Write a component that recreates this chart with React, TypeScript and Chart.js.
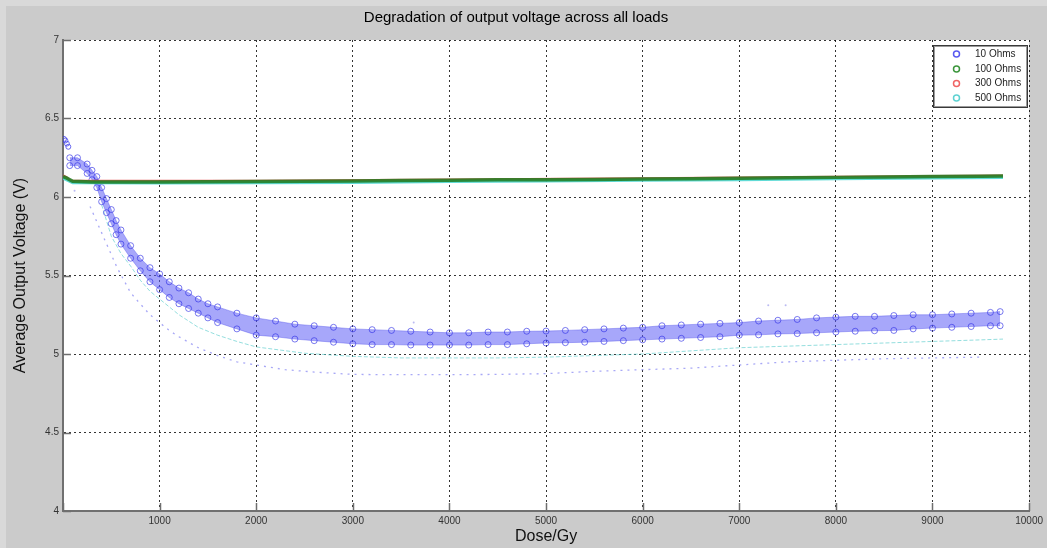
import { useEffect, useRef } from 'react';
import { Chart, registerables } from 'chart.js';

Chart.register(...registerables);

const FONT = "'Liberation Sans', Arial, Helvetica, sans-serif";

const chartTitle = 'Degradation of output voltage across all loads';
const xTitle = 'Dose/Gy';
const yTitle = 'Average Output Voltage (V)';

const xTicks = [0, 1000, 2000, 3000, 4000, 5000, 6000, 7000, 8000, 9000, 10000];
const yTicks = [4, 4.5, 5, 5.5, 6, 6.5, 7];

const seriesLabels = ['10 Ohms', '100 Ohms', '300 Ohms', '500 Ohms'];
const seriesColors = ['#5a5af0', '#3c963c', '#f06464', '#5fd2d2'];

// 10 Ohms: main band (upper / lower edge of the dense marker cloud)
const bandDose = [70, 150, 250, 300, 350, 400, 450, 500, 550, 600, 700, 800, 900, 1000, 1100, 1200, 1300, 1400, 1500, 1600, 1800, 2000, 2200, 2400, 2600, 2800, 3000, 3200, 3400, 3600, 3800, 4000, 4200, 4400, 4600, 4800, 5000, 5200, 5400, 5600, 5800, 6000, 6200, 6400, 6600, 6800, 7000, 7200, 7400, 7600, 7800, 8000, 8200, 8400, 8600, 8800, 9000, 9200, 9400, 9600, 9700];
const band10Upper = [6.25, 6.25, 6.21, 6.17, 6.13, 6.06, 5.99, 5.92, 5.85, 5.79, 5.69, 5.61, 5.55, 5.51, 5.46, 5.42, 5.39, 5.35, 5.32, 5.30, 5.26, 5.23, 5.21, 5.19, 5.18, 5.17, 5.16, 5.155, 5.15, 5.145, 5.14, 5.135, 5.135, 5.14, 5.14, 5.145, 5.146, 5.15, 5.155, 5.16, 5.165, 5.17, 5.18, 5.185, 5.19, 5.195, 5.2, 5.21, 5.215, 5.22, 5.23, 5.235, 5.24, 5.24, 5.245, 5.25, 5.25, 5.255, 5.26, 5.265, 5.27];
const band10Lower = [6.2, 6.2, 6.15, 6.11, 6.06, 5.97, 5.9, 5.83, 5.76, 5.7, 5.61, 5.53, 5.46, 5.41, 5.36, 5.32, 5.29, 5.26, 5.23, 5.2, 5.16, 5.12, 5.11, 5.095, 5.085, 5.075, 5.065, 5.06, 5.06, 5.057, 5.057, 5.057, 5.057, 5.06, 5.06, 5.065, 5.07, 5.072, 5.075, 5.08, 5.085, 5.09, 5.095, 5.1, 5.105, 5.11, 5.12, 5.122, 5.128, 5.13, 5.135, 5.14, 5.145, 5.148, 5.15, 5.16, 5.165, 5.17, 5.175, 5.18, 5.18];

// 10 Ohms: first readings and stray points
const dose10Start = [10, 25, 40, 55];
const volt10Start = [6.37, 6.36, 6.34, 6.32];
const dose10Stray = [3630, 7300, 7480, 120];
const volt10Stray = [5.2, 5.31, 5.31, 6.04];

// 10 Ohms: faint lower trace
const dose10Low = [280, 430, 560, 700, 770, 900, 1000, 1100, 1200, 1400, 1600, 1800, 2000, 2300, 2600, 3000, 3500, 4000, 4500, 5000, 5500, 6000, 6500, 7000, 7500, 8000, 8500, 9000, 9500];
const volt10Low = [5.94, 5.73, 5.55, 5.39, 5.34, 5.25, 5.2, 5.15, 5.11, 5.04, 4.99, 4.95, 4.93, 4.9, 4.885, 4.87, 4.868, 4.868, 4.87, 4.875, 4.89, 4.9, 4.91, 4.93, 4.95, 4.96, 4.97, 4.975, 4.98];

// 100 Ohms
const dose100 = [0, 40, 100, 300, 600, 1000, 1500, 2000, 2500, 3000, 3500, 4000, 4500, 5000, 5500, 6000, 6500, 7000, 7500, 8000, 8500, 9000, 9500, 9730];
const volt100 = [6.13, 6.12, 6.1, 6.095, 6.095, 6.096, 6.097, 6.098, 6.1, 6.102, 6.105, 6.107, 6.11, 6.11, 6.112, 6.115, 6.117, 6.12, 6.122, 6.125, 6.128, 6.13, 6.132, 6.133];

// 300 Ohms
const dose300 = [0, 30, 80, 2000, 4000, 6000, 8000, 9730];
const volt300 = [6.135, 6.125, 6.1, 6.1, 6.108, 6.116, 6.126, 6.134];

// 500 Ohms
const dose500 = [0, 100, 1000, 2000, 3000, 4000, 5000, 6000, 7000, 8000, 9000, 9730];
const volt500 = [6.12, 6.09, 6.089, 6.09, 6.093, 6.098, 6.102, 6.106, 6.11, 6.116, 6.121, 6.124];
const dose500Low = [400, 500, 600, 700, 800, 900, 1000, 1200, 1400, 1600, 1800, 2000, 2500, 3000, 3500, 4000, 4500, 5000, 5500, 6000, 6500, 7000, 7500, 8000, 8500, 9000, 9500, 9730];
const volt500Low = [5.95, 5.75, 5.64, 5.56, 5.47, 5.4, 5.35, 5.25, 5.17, 5.12, 5.08, 5.045, 5.005, 4.985, 4.975, 4.975, 4.975, 4.98, 4.99, 5.0, 5.02, 5.04, 5.05, 5.06, 5.07, 5.08, 5.09, 5.095];

const pts = (xs: number[], ys: number[]) => xs.map((x, i) => ({ x, y: ys[i] }));

const bgPlugin = {
  id: 'bg',
  beforeDraw(chart: any) {
    const { ctx, width, height, chartArea } = chart;
    ctx.save();
    ctx.fillStyle = '#cbcbcb';
    ctx.fillRect(0, 0, width, height);
    ctx.fillStyle = '#d9d9d9';
    ctx.fillRect(0, 0, width, 6);
    ctx.fillRect(0, 0, 6, height);
    ctx.fillStyle = '#ffffff';
    ctx.fillRect(chartArea.left, chartArea.top, chartArea.right - chartArea.left, chartArea.bottom - chartArea.top);
    ctx.restore();
  },
};

const overlayPlugin = {
  id: 'overlay',
  afterDraw(chart: any) {
    const { ctx, chartArea, scales } = chart;
    ctx.save();
    // inward tick marks
    ctx.strokeStyle = '#6e6e6e';
    ctx.lineWidth = 1.5;
    xTicks.forEach((v) => {
      const px = Math.round(scales.x.getPixelForValue(v)) + 0.5;
      ctx.beginPath();
      ctx.moveTo(px, chartArea.bottom);
      ctx.lineTo(px, chartArea.bottom - 8);
      ctx.stroke();
    });
    yTicks.forEach((v) => {
      const py = Math.round(scales.y.getPixelForValue(v)) + 0.5;
      ctx.beginPath();
      ctx.moveTo(chartArea.left, py);
      ctx.lineTo(chartArea.left + 8, py);
      ctx.stroke();
    });
    // legend box
    const bx = 933.5, by = 45.5, bw = 94, bh = 62;
    ctx.fillStyle = '#ffffff';
    ctx.fillRect(bx, by, bw, bh);
    ctx.strokeStyle = '#3a3a3a';
    ctx.lineWidth = 1;
    ctx.strokeRect(bx, by, bw, bh);
    ctx.strokeStyle = '#9a9a9a';
    ctx.strokeRect(bx + 1, by + 1, bw - 2, bh - 2);
    const rows = [54, 69, 83.5, 98];
    ctx.font = `10px ${FONT}`;
    ctx.textBaseline = 'middle';
    ctx.textAlign = 'left';
    seriesLabels.forEach((lab, i) => {
      ctx.beginPath();
      ctx.strokeStyle = seriesColors[i];
      ctx.lineWidth = 1.5;
      ctx.arc(956.5, rows[i], 3, 0, Math.PI * 2);
      ctx.stroke();
      ctx.fillStyle = '#1e1e1e';
      ctx.fillText(lab, 975, rows[i]);
    });
    ctx.restore();
  },
};

export default function App() {
  const ref = useRef<HTMLCanvasElement>(null);

  useEffect(() => {
    document.body.style.margin = '0';
    if (!ref.current) return;
    const chart = new Chart(ref.current, {
      type: 'line',
      data: {
        datasets: [
          {
            label: '100 Ohms',
            data: pts(dose100, volt100),
            borderColor: 'rgba(30,125,30,0.85)',
            borderWidth: 3.5,
            pointRadius: 0,
            fill: false,
            order: 1,
          },
          {
            label: '500 Ohms',
            data: pts(dose500, volt500),
            borderColor: 'rgba(80,215,210,0.9)',
            borderWidth: 3,
            pointRadius: 0,
            fill: false,
            order: 2,
          },
          {
            label: '300 Ohms',
            data: pts(dose300, volt300),
            borderColor: 'rgba(230,80,80,0.9)',
            borderWidth: 3,
            pointRadius: 0,
            fill: false,
            order: 3,
          },
          {
            label: '10 Ohms upper',
            data: pts(bandDose, band10Upper),
            borderColor: 'rgba(80,80,235,0.4)',
            borderWidth: 1,
            pointRadius: 3,
            pointBorderWidth: 1,
            pointBorderColor: 'rgba(50,50,230,0.65)',
            pointBackgroundColor: 'rgba(0,0,0,0)',
            fill: false,
            order: 5,
          },
          {
            label: '10 Ohms lower',
            data: pts(bandDose, band10Lower),
            borderColor: 'rgba(80,80,235,0.4)',
            borderWidth: 1,
            pointRadius: 3,
            pointBorderWidth: 1,
            pointBorderColor: 'rgba(50,50,230,0.65)',
            pointBackgroundColor: 'rgba(0,0,0,0)',
            backgroundColor: 'rgba(95,95,245,0.55)',
            fill: '-1',
            order: 6,
          },
          {
            label: '10 Ohms start',
            data: pts(dose10Start, volt10Start),
            showLine: false,
            pointRadius: 2.5,
            pointBorderWidth: 1,
            pointBorderColor: 'rgba(60,60,235,0.75)',
            pointBackgroundColor: 'rgba(0,0,0,0)',
            order: 7,
          },
          {
            label: '10 Ohms stray',
            data: pts(dose10Stray, volt10Stray),
            showLine: false,
            pointRadius: 1,
            pointBorderWidth: 0,
            pointBackgroundColor: 'rgba(120,120,230,0.5)',
            order: 8,
          },
          {
            label: '10 Ohms low',
            data: pts(dose10Low, volt10Low),
            borderColor: 'rgba(110,110,240,0.6)',
            borderWidth: 1.3,
            borderDash: [2, 5],
            pointRadius: 0,
            fill: false,
            order: 9,
          },
          {
            label: '500 Ohms low',
            data: pts(dose500Low, volt500Low),
            borderColor: 'rgba(90,205,205,0.65)',
            borderWidth: 1,
            borderDash: [4, 2],
            pointRadius: 0,
            fill: false,
            order: 10,
          },
        ],
      },
      options: {
        animation: false,
        responsive: false,
        events: [],
        layout: { padding: { left: 0, right: 15, top: 0, bottom: 0 } },
        plugins: {
          legend: { display: false },
          tooltip: { enabled: false },
          title: {
            display: true,
            text: chartTitle,
            color: '#000',
            font: { family: FONT, size: 15, weight: 'normal' },
            padding: { top: 9, bottom: 13 },
          },
        },
        scales: {
          x: {
            type: 'linear',
            min: 0,
            max: 10000,
            afterBuildTicks: (s: any) => {
              s.ticks = xTicks.map((v) => ({ value: v }));
            },
            afterFit: (s: any) => {
              s.height = 37;
            },
            ticks: {
              color: '#333',
              font: { family: FONT, size: 10 },
              padding: 4,
              maxRotation: 0,
              autoSkip: false,
              callback: (v: any) => (Number(v) === 0 ? '' : String(v)),
            },
            grid: {
              color: 'rgba(0,0,0,0.8)',
              lineWidth: 1,
              drawTicks: false,
            },
            border: { display: true, color: '#707070', width: 2, dash: [2, 3] },
            title: {
              display: true,
              text: xTitle,
              color: '#111',
              font: { family: FONT, size: 16 },
              padding: { top: 0, bottom: 2 },
            },
          },
          y: {
            type: 'linear',
            min: 4,
            max: 7,
            afterBuildTicks: (s: any) => {
              s.ticks = yTicks.map((v) => ({ value: v }));
            },
            afterFit: (s: any) => {
              s.width = 63;
            },
            ticks: {
              color: '#333',
              font: { family: FONT, size: 10 },
              padding: 4,
              autoSkip: false,
              callback: (v: any) => String(v),
            },
            grid: {
              color: 'rgba(0,0,0,0.8)',
              lineWidth: 1,
              drawTicks: false,
            },
            border: { display: true, color: '#707070', width: 2, dash: [2, 3] },
            title: {
              display: true,
              text: yTitle,
              color: '#111',
              font: { family: FONT, size: 16 },
              padding: { top: 11, bottom: 0 },
            },
          },
        },
      },
      plugins: [bgPlugin, overlayPlugin],
    } as any);
    return () => chart.destroy();
  }, []);

  return (
    <div style={{ width: 1047, height: 548 }}>
      <canvas ref={ref} width={1047} height={548} style={{ display: 'block' }} />
    </div>
  );
}
